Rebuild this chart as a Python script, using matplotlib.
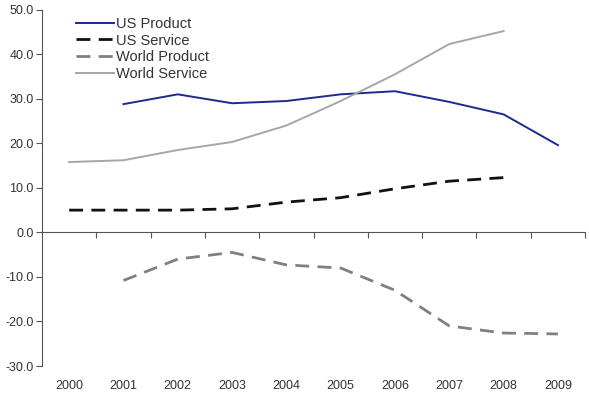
import numpy as np
import matplotlib.pyplot as plt
import matplotlib.transforms as mtransforms

plt.rcParams['font.family'] = ['Liberation Sans', 'DejaVu Sans']

years = ['2000', '2001', '2002', '2003', '2004', '2005', '2006', '2007', '2008', '2009']
us_product = [np.nan, 28.8, 31.0, 29.0, 29.5, 31.0, 31.7, 29.3, 26.5, 19.6]
us_service = [5.0, 5.0, 5.0, 5.3, 6.8, 7.8, 9.8, 11.5, 12.3, np.nan]
world_product = [np.nan, -10.8, -6.0, -4.5, -7.3, -8.0, -13.0, -21.0, -22.6, -22.8]
world_service = [15.8, 16.2, 18.5, 20.3, 24.0, 29.5, 35.5, 42.3, 45.2, np.nan]

x = np.arange(len(years))

fig = plt.figure(figsize=(5.89, 3.95), dpi=100)
ax = fig.add_axes([0.0713, 0.0734, 0.922, 0.902])

ax.plot(x, us_product, color='#1c2a8f', lw=1.4, label='US Product')
ax.plot(x, us_service, color='#111111', lw=2.0, dashes=(5, 3), label='US Service')
ax.plot(x, world_product, color='#808080', lw=2.0, dashes=(5, 3), label='World Product')
ax.plot(x, world_service, color='#a6a6a6', lw=1.4, label='World Service')

ax.set_xlim(-0.5, len(years) - 0.5)
ax.set_ylim(-30, 50)
ax.set_yticks(np.arange(-30, 51, 10))
ax.set_yticklabels(['%.1f' % v for v in np.arange(-30, 51, 10)])

for s in ['top', 'right']:
    ax.spines[s].set_visible(False)
ax.spines['bottom'].set_position(('data', 0))
ax.spines['bottom'].set_color('#555555')
ax.spines['left'].set_color('#555555')
ax.set_xticks(np.arange(len(years)) + 0.5)
ax.set_xticklabels([])
ax.tick_params(axis='x', direction='out', length=4, color='#555555')
ax.tick_params(axis='y', direction='out', length=4, color='#555555',
               labelsize=9, labelcolor='#333333', pad=2)

trans = mtransforms.blended_transform_factory(ax.transData, ax.transAxes)
for i, yr in enumerate(years):
    ax.text(i, -0.04, yr, transform=trans, ha='center', va='top',
            fontsize=9, color='#333333')

leg = ax.legend(loc='upper left', bbox_to_anchor=(0.052, 0.997), frameon=False,
                fontsize=10.5, handlelength=2.6, handletextpad=0.15,
                labelspacing=0.2, borderaxespad=0)
for t in leg.get_texts():
    t.set_color('#333333')

fig.savefig('out.png', dpi=100)
